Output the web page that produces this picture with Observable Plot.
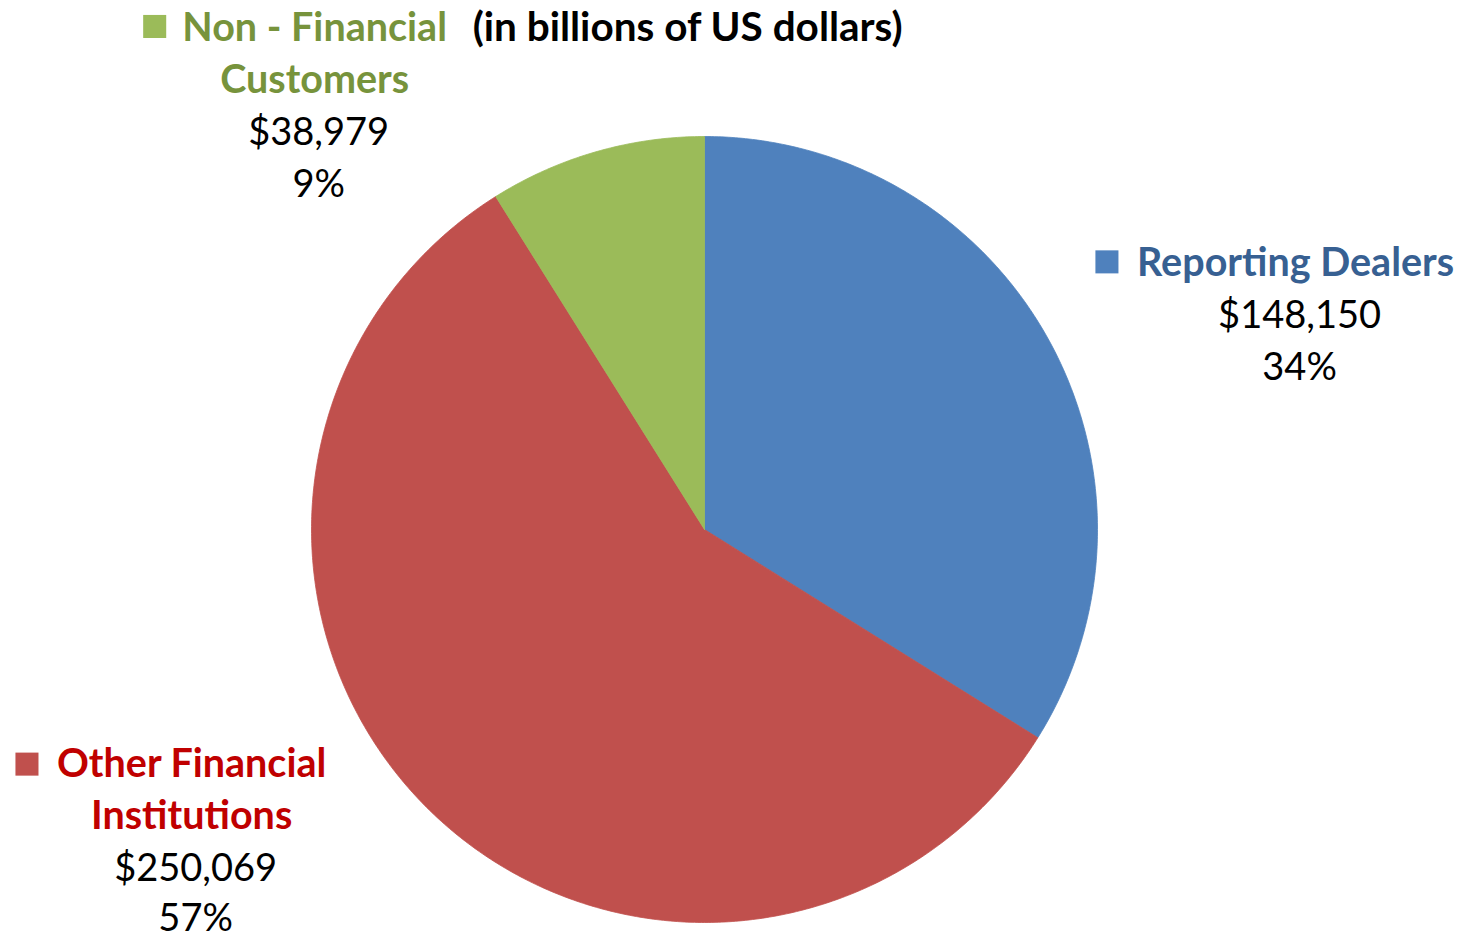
<!DOCTYPE html>
<html>
<head>
<meta charset="utf-8">
<script src="https://cdn.jsdelivr.net/npm/d3@7"></script>
<script src="https://cdn.jsdelivr.net/npm/@observablehq/plot@0.6"></script>
<style>
  html, body { margin: 0; padding: 0; background: #ffffff; }
  #chart svg { display: block; }
</style>
</head>
<body>
<div id="chart"></div>
<script>
// ---- data ----
const categories = ["Reporting Dealers", "Other Financial Institutions", "Non - Financial Customers"];
const values = [148150, 250069, 38979];
const valueLabels = ["$148,150", "$250,069", "$38,979"];
const percentLabels = ["34%", "57%", "9%"];
const nameLines = [["Reporting Dealers"], ["Other Financial", "Institutions"], ["Non - Financial", "Customers"]];
const titleText = "(in billions of US dollars)";

// ---- styles / layout ----
const sliceColors = ["#4F81BD", "#C0504D", "#9BBB59"];
const labelColors = ["#376092", "#C00000", "#77933C"];
const W = 1465, H = 937, CX = 704, CY = 529, R = 393;
const LINE = 52 / R; // line step in radius units
const VALUE_SHIFT = 4 / R; // value lines sit slightly right of the name lines
// label anchors (radius units, relative to pie centre): text centre x, first baseline y
const labelAnchor = [[1.504, 0.644], [-1.305, -0.631], [-0.992, 1.244]];
const squareAnchor = [[1.024, 0.681], [-1.724, -0.597], [-1.399, 1.280]];
const titleAnchor = [-0.590, 1.244];

// ---- build slices with d3.pie ----
const arcs = d3.pie().sort(null).value(d => d)(values);
function slicePoints(a) {
  const pts = [{x: 0, y: 0}];
  const n = Math.max(2, Math.ceil((a.endAngle - a.startAngle) / (Math.PI / 360)));
  for (let i = 0; i <= n; i++) {
    const t = a.startAngle + (a.endAngle - a.startAngle) * i / n;
    pts.push({x: Math.sin(t), y: Math.cos(t)});
  }
  pts.push({x: 0, y: 0});
  return pts;
}

const marks = [];
arcs.forEach((a, i) => {
  marks.push(Plot.line(slicePoints(a), {x: "x", y: "y", fill: sliceColors[i], stroke: sliceColors[i], strokeWidth: 0.8}));
});

categories.forEach((c, i) => {
  const [lx, ly] = labelAnchor[i];
  const names = nameLines[i].map((t, k) => ({t, x: lx, y: ly - k * LINE}));
  const nn = names.length;
  const vals = [valueLabels[i], percentLabels[i]].map((t, k) => ({t, x: lx + VALUE_SHIFT, y: ly - (nn + k) * LINE + (i === 1 && k === 1 ? 2 / R : 0)}));
  marks.push(Plot.text(names, {x: "x", y: "y", text: "t", fill: labelColors[i], fontWeight: "bold", fontSize: 39.5, textAnchor: "middle", lineAnchor: "bottom"}));
  marks.push(Plot.text(vals, {x: "x", y: "y", text: "t", fill: "#000000", fontSize: 38, textAnchor: "middle", lineAnchor: "bottom"}));
  marks.push(Plot.dot([squareAnchor[i]], {x: d => d[0], y: d => d[1], symbol: "square", r: 13, fill: sliceColors[i], stroke: "none"}));
});

marks.push(Plot.text([titleText], {x: titleAnchor[0], y: titleAnchor[1], text: d => d, fill: "#000000", fontWeight: "bold", fontSize: 40.5, textAnchor: "start", lineAnchor: "bottom"}));

const chart = Plot.plot({
  width: W,
  height: H,
  margin: 0,
  x: {domain: [-1, 1], range: [CX - R, CX + R], axis: null},
  y: {domain: [-1, 1], range: [CY + R, CY - R], axis: null},
  style: {background: "#ffffff", fontFamily: "Lato, 'Open Sans', sans-serif", overflow: "visible"},
  marks
});
document.getElementById("chart").appendChild(chart);
</script>
</body>
</html>
